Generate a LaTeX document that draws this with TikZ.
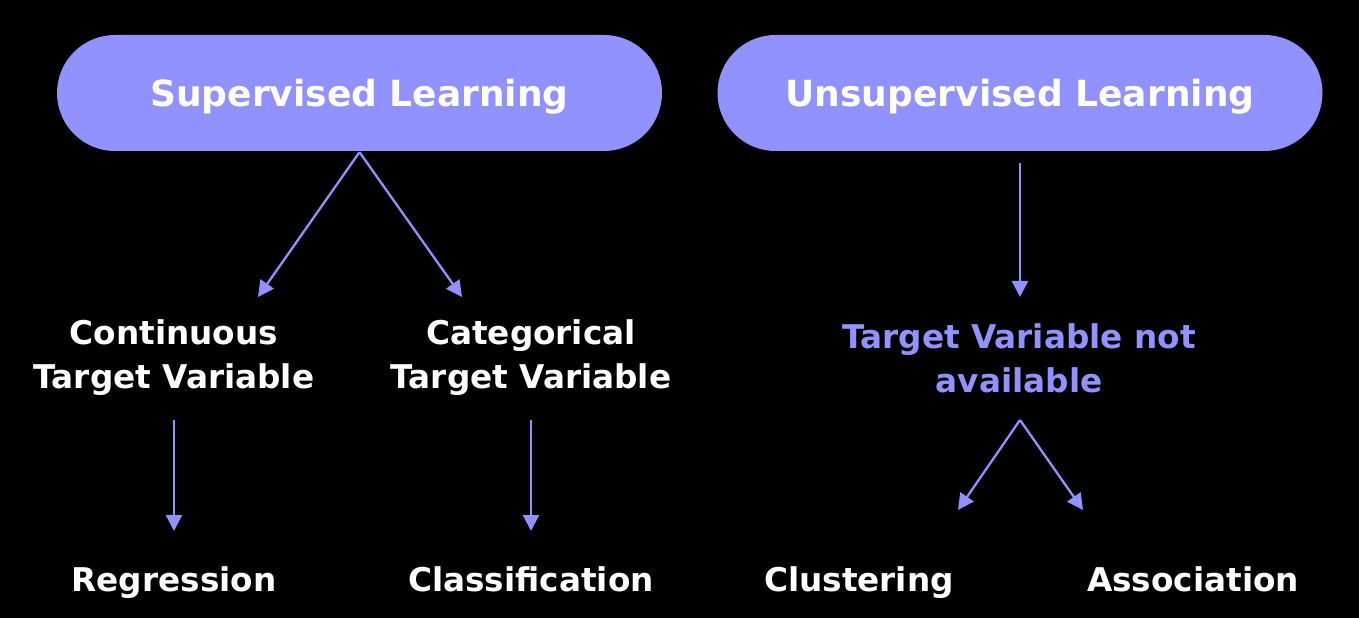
\documentclass[tikz,border=0pt]{standalone}
\usepackage{fontspec}
\setmainfont{DejaVu Sans}
\usetikzlibrary{positioning,arrows.meta}
\definecolor{lilac}{HTML}{9191FF}
\tikzset{every picture/.style={line width=1.3pt}}
\tikzset{
    pill/.style={fill=lilac, minimum width=12.1cm, minimum height=2.32cm, rounded corners=1.16cm,
        text=white, text depth=0pt, font=\bfseries\fontsize{20.5}{25}\selectfont},
    lbl/.style={text=white, align=center, font=\bfseries\fontsize{18.6}{25}\selectfont},
    arr/.style={draw=lilac, -{Triangle[length=0.32cm, width=0.32cm]}}
}

\begin{document}
\begin{tikzpicture}
    % Background
    \fill[black] (0,0) rectangle (27.18,-12.36);
    \useasboundingbox (0,0) rectangle (27.18,-12.36);

    % Headers
    \node[pill] (sup) at (7.19,-1.86) {Supervised Learning};
    \node[pill] (uns) at (20.4,-1.86) {Unsupervised Learning};

    % Second row
    \node[lbl] (cont) at (3.48,-7.16) {Continuous\\Target Variable};
    \node[lbl] (cat) at (10.62,-7.16) {Categorical\\Target Variable};
    \node[lbl, text=lilac] (notav) at (20.38,-7.16) {Target Variable not\\available};

    % Bottom row (on a common baseline)
    \node[lbl, anchor=base] (regr) at (3.48,-11.82) {Regression};
    \node[lbl, anchor=base] (class) at (10.62,-11.82) {Classification};
    \node[lbl, anchor=base] (clust) at (17.18,-11.82) {Clustering};
    \node[lbl, anchor=base] (assoc) at (23.86,-11.82) {Association};

    % Arrow ends
    \coordinate (cont-in) at (5.16,-5.94);
    \coordinate (cat-in) at (9.24,-5.94);
    \coordinate (cont-out) at (3.48,-8.4);
    \coordinate (cat-out) at (10.62,-8.4);
    \coordinate (regr-in) at (3.48,-10.62);
    \coordinate (class-in) at (10.62,-10.62);
    \coordinate (notav-in) at (20.4,-5.94);
    \coordinate (notav-out) at (20.4,-8.4);
    \coordinate (clust-in) at (19.16,-10.2);
    \coordinate (assoc-in) at (21.66,-10.2);

    % Arrows
    \draw[arr] (sup.south) -- (cont-in);
    \draw[arr] (sup.south) -- (cat-in);
    \draw[arr] (cont-out) -- (regr-in);
    \draw[arr] (cat-out) -- (class-in);
    \draw[arr, shorten <=0.22cm] (uns.south) -- (notav-in);
    \draw[arr] (notav-out) -- (clust-in);
    \draw[arr] (notav-out) -- (assoc-in);
\end{tikzpicture}
\end{document}
